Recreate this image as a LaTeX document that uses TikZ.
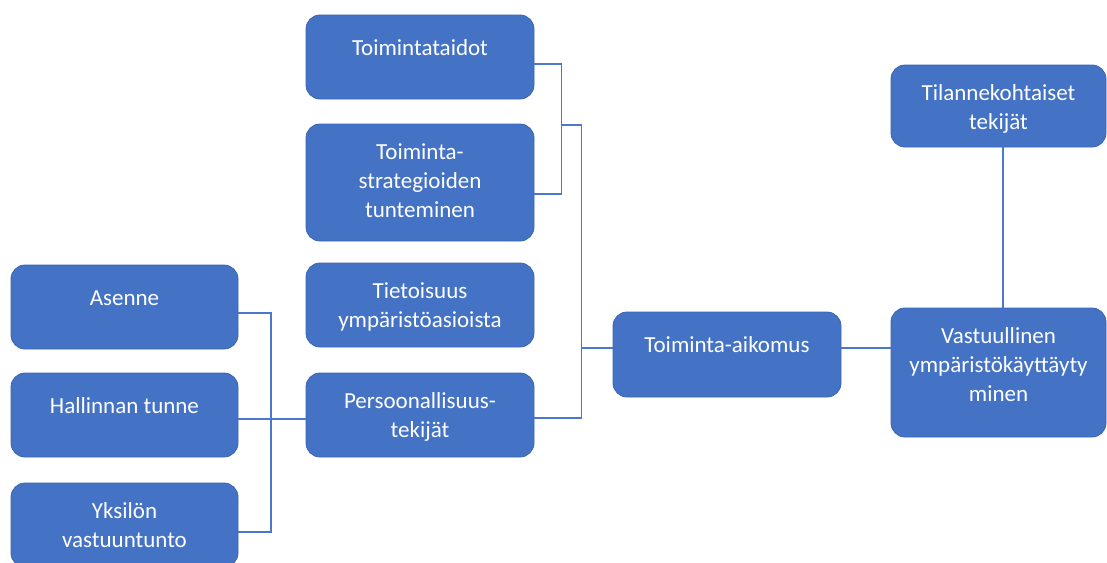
\documentclass[tikz,border=0pt]{standalone}
\usepackage{fontspec}
\setmainfont{Carlito}
\usepackage{xcolor}
\usepackage{tikz}
\definecolor{laatikkosini}{HTML}{4472C4}
\definecolor{reunasini}{HTML}{3A64B2}
\definecolor{viivasini}{HTML}{4A78CC}
\usetikzlibrary{positioning, calc}

\tikzset{
    laatikko/.style={draw=reunasini, line width=0.8pt, fill=laatikkosini, rounded corners=14pt,
        minimum width=228pt, minimum height=84pt, inner sep=0pt, outer sep=0pt},
    teksti/.style={anchor=north, yshift=-19.5pt, text=white, align=center, inner sep=0pt,
        font=\fontsize{23}{29}\selectfont, execute at begin node=\strut},
    viiva/.style={draw=viivasini, line width=1.3pt}
}

\begin{document}
\begin{tikzpicture}[x=1pt, y=-1pt]
    \clip (0,0) rectangle (1107,562);

    % Keskimmainen sarake
    \node[laatikko, label={[teksti]north:Toimintataidot}] (taidot) at (420,57) {};
    \node[laatikko, minimum height=117pt, below=25pt of taidot,
        label={[teksti]north:Toiminta-\\strategioiden\\tunteminen}] (strategiat) {};
    \node[laatikko, below=22pt of strategiat,
        label={[teksti]north:Tietoisuus\\ympäristöasioista}] (tietoisuus) {};
    \node[laatikko, below=26pt of tietoisuus,
        label={[teksti]north:Persoonallisuus-\\tekijät}] (persoon) {};

    % Vasen sarake
    \node[laatikko, minimum width=227pt, label={[teksti]north:Asenne}] (asenne) at (124.5,307) {};
    \node[laatikko, minimum width=227pt, below=24pt of asenne,
        label={[teksti]north:Hallinnan tunne}] (hallinta) {};
    \node[laatikko, minimum width=227pt, below=26pt of hallinta,
        label={[teksti]north:Yksilön\\vastuuntunto}] (yksilo) {};

    % Aikomus ja käyttäytyminen
    \node[laatikko, minimum height=85pt, label={[teksti]north:Toiminta-aikomus}] (aikomus) at (727,354.5) {};
    \node[laatikko, minimum width=215pt, minimum height=129pt,
        label={[teksti]north:Vastuullinen\\ympäristökäyttäyty\\minen}] (vastuu) at (998.5,372.5) {};
    \node[laatikko, minimum width=215pt, minimum height=82pt,
        label={[teksti]north:Tilannekohtaiset\\tekijät}] (tilanne) at (998.5,106) {};

    % Haarat
    \coordinate (haara1) at (561.5,125);
    \coordinate (runko) at (581.5,125);
    \coordinate (liitos) at (581.5,348);
    \coordinate (haara3) at (271,419);

    \draw[viiva] ([yshift=-7pt]taidot.east) -| (haara1) |- ([yshift=-11.5pt]strategiat.east);
    \draw[viiva] ([yshift=-3pt]persoon.east) -| (runko) -- (haara1);
    \draw[viiva] (liitos) -- (liitos -| aikomus.west);
    \draw[viiva] ([yshift=-6pt]asenne.east) -| (haara3) |- ([yshift=-7pt]yksilo.east);
    \draw[viiva] ([yshift=-4pt]hallinta.east) -- ([yshift=-4pt]persoon.west);
    \draw[viiva] ([yshift=6.5pt]aikomus.east) -- ([yshift=24.5pt]vastuu.west);
    \draw[viiva] ([xshift=4.5pt]tilanne.south) -- ([xshift=4.5pt]vastuu.north);
\end{tikzpicture}
\end{document}
